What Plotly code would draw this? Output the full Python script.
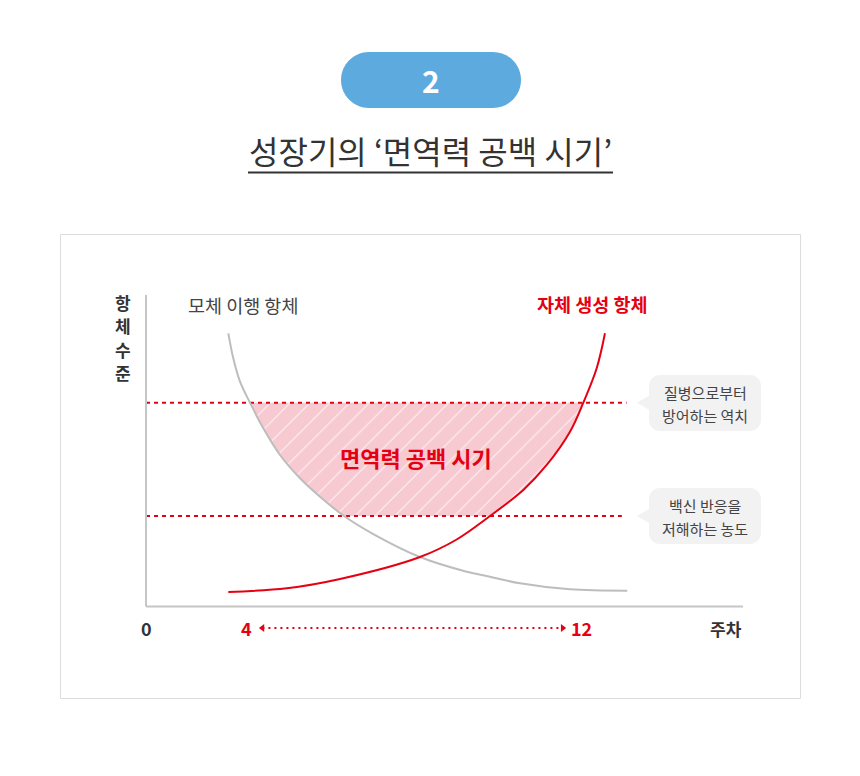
import plotly.graph_objects as go

# ---------------- data (time units 0-100 along x axis, antibody level 0-100) ----------------
maternal_time = [13.79, 14.62, 15.75, 17.42, 19.65, 22.45, 25.80, 29.15, 33.17, 38.07, 45.90, 53.72, 57.62, 62.65, 71.02, 80.62]
maternal_level = [87.70, 79.68, 72.17, 65.43, 57.21, 48.64, 41.16, 35.25, 29.05, 23.27, 15.89, 11.17, 9.57, 7.45, 5.52, 5.07]

own_time = [13.79, 23.57, 32.50, 45.90, 52.04, 57.62, 63.20, 67.12, 71.02, 73.25, 75.49, 76.88]
own_level = [4.65, 5.84, 8.83, 15.89, 21.51, 29.05, 37.40, 45.43, 56.12, 65.43, 76.47, 87.70]

threshold_levels = [65.43, 29.05]        # protective threshold, vaccine-interference level
threshold_ends = [80.5, 79.7]
threshold_notes = [["질병으로부터", "방어하는 역치"], ["백신 반응을", "저해하는 농도"]]

week_labels = ["0", "4", "12"]
week_pos = [0.0, 16.9, 73.0]
week_colors = ["#333333", "#e50012", "#e50012"]
gap_arrow_time = [19.5, 69.8]

# ---------------- geometry helpers ----------------
W, H = 860, 776
X0, XS = 146.0, 5.97
Y0, YS = 606.5, 3.115
def dx(px): return (px - X0) / XS
def dy(py): return (Y0 - py) / YS
def P(px, py): return f"{px / W:.5f},{1 - py / H:.5f}"

RED = "#e50012"
FONT = "Noto Sans CJK KR"

def rounded(x0, y0, x1, y1, r, tip=None):
    k = 0.5523 * r
    s = f"M{P(x0 + r, y0)} L{P(x1 - r, y0)} C{P(x1 - r + k, y0)} {P(x1, y0 + r - k)} {P(x1, y0 + r)} "
    s += f"L{P(x1, y1 - r)} C{P(x1, y1 - r + k)} {P(x1 - r + k, y1)} {P(x1 - r, y1)} "
    s += f"L{P(x0 + r, y1)} C{P(x0 + r - k, y1)} {P(x0, y1 - r + k)} {P(x0, y1 - r)} "
    if tip:
        tx, ty, h = tip
        s += f"L{P(x0, ty + h)} L{P(tx, ty)} L{P(x0, ty - h)} "
    s += f"L{P(x0, y0 + r)} C{P(x0, y0 + r - k)} {P(x0 + r - k, y0)} {P(x0 + r, y0)} Z"
    return s

def note(fig, px, py, text, size, color, ref="data"):
    if ref == "data":
        fig.add_annotation(x=dx(px), y=dy(py), xref="x", yref="y", text=text, showarrow=False,
                           xanchor="center", yanchor="middle",
                           font=dict(family=FONT, size=size, color=color))
    else:
        fig.add_annotation(x=px / W, y=1 - py / H, xref="paper", yref="paper", text=text,
                           showarrow=False, xanchor="center", yanchor="middle",
                           font=dict(family=FONT, size=size, color=color))

fig = go.Figure()

# gap region (between the two thresholds, right of maternal curve, left of own curve)
hi = threshold_levels[0]; lo = threshold_levels[1]
g_seg = sorted([(t, l) for t, l in zip(maternal_time, maternal_level) if lo <= l <= hi], key=lambda p: p[1])
r_seg = sorted([(t, l) for t, l in zip(own_time, own_level) if lo <= l <= hi], key=lambda p: p[1])
fig.add_trace(go.Scatter(x=[p[0] for p in g_seg], y=[p[1] for p in g_seg], mode="lines",
                         line=dict(width=0, shape="spline"), hoverinfo="skip", showlegend=False))
fig.add_trace(go.Scatter(x=[p[0] for p in r_seg], y=[p[1] for p in r_seg], mode="lines",
                         line=dict(width=0, shape="spline"), fill="tonextx", fillcolor="#f7c9d1",
                         fillpattern=dict(shape="/", bgcolor="#f7c9d1", fgcolor="#ffffff",
                                          fgopacity=0.75, size=14, solidity=0.08),
                         hoverinfo="skip", showlegend=False))

# threshold dashed lines
for lvl, end in zip(threshold_levels, threshold_ends):
    fig.add_trace(go.Scatter(x=[0, end], y=[lvl, lvl], mode="lines",
                             line=dict(color=RED, width=2, dash="4px,4px"),
                             hoverinfo="skip", showlegend=False))

# curves
fig.add_trace(go.Scatter(x=maternal_time, y=maternal_level, mode="lines",
                         line=dict(color="#bdbdbd", width=2, shape="spline", smoothing=1.0),
                         showlegend=False))
fig.add_trace(go.Scatter(x=own_time, y=own_level, mode="lines",
                         line=dict(color=RED, width=2, shape="spline", smoothing=1.0),
                         showlegend=False))

# axes lines
fig.add_shape(type="line", xref="x", yref="y", x0=0, x1=0, y0=0, y1=100,
              line=dict(color="#c6c6c6", width=2))
fig.add_shape(type="line", xref="x", yref="y", x0=0, x1=100, y0=0, y1=0,
              line=dict(color="#c6c6c6", width=2))

# week axis labels
label_y = dy(628)
for lab, pos, col in zip(week_labels, week_pos, week_colors):
    fig.add_annotation(x=pos, y=label_y, text=f"<b>{lab}</b>", showarrow=False,
                       font=dict(family=FONT, size=18, color=col), xanchor="center", yanchor="middle")
note(fig, 726, 628, "<b>주차</b>", 17, "#333333")

# gap arrow
fig.add_trace(go.Scatter(x=gap_arrow_time, y=[label_y, label_y], mode="lines",
                         line=dict(color=RED, width=2, dash="2px,4px"), hoverinfo="skip", showlegend=False))
fig.add_trace(go.Scatter(x=gap_arrow_time, y=[label_y, label_y], mode="markers",
                         marker=dict(symbol=["triangle-left", "triangle-right"], size=7, color=RED),
                         hoverinfo="skip", showlegend=False))

# chart text labels
for ch, py in zip("항체수준", [302, 325, 349, 372]):
    note(fig, 123, py, f"<b>{ch}</b>", 17, "#333333")
note(fig, 242.5, 305, "모체 이행 항체", 18.5, "#444444")
note(fig, 592.5, 304, "<b>자체 생성 항체</b>", 18.5, RED)
note(fig, 415.5, 457, "<b>면역력 공백 시기</b>", 22, RED)

# callout bubbles
bubble_top = [375, 488]
for i, (lvl, lines) in enumerate(zip(threshold_levels, threshold_notes)):
    ty = Y0 - lvl * YS
    top = bubble_top[i]
    fig.add_shape(type="path", xref="paper", yref="paper",
                  path=rounded(649, top, 761, top + 56, 11, tip=(637, ty, 7)),
                  fillcolor="#f2f2f2", line=dict(width=0), layer="below")
    for j, line in enumerate(lines):
        note(fig, 705, top + 17 + 23 * j, line, 15, "#444444", ref="paper")

# frame
fig.add_shape(type="rect", xref="paper", yref="paper", x0=60.5 / W, x1=800.5 / W,
              y0=1 - 698.5 / H, y1=1 - 234.5 / H, line=dict(color="#dddddd", width=1),
              fillcolor="rgba(0,0,0,0)", layer="below")

# header badge + title
fig.add_shape(type="path", xref="paper", yref="paper", path=rounded(341, 52, 521, 108, 28),
              fillcolor="#5daade", line=dict(width=0))
note(fig, 431, 80, "<b>2</b>", 30, "#ffffff", ref="paper")
note(fig, 430.5, 150, "성장기의 ‘면역력 공백 시기’", 32, "#333333", ref="paper")
fig.add_shape(type="line", xref="paper", yref="paper", x0=248 / W, x1=613 / W,
              y0=1 - 172.5 / H, y1=1 - 172.5 / H, line=dict(color="#333333", width=2))

fig.update_layout(
    width=W, height=H, margin=dict(l=0, r=0, t=0, b=0, pad=0),
    paper_bgcolor="#ffffff", plot_bgcolor="rgba(0,0,0,0)",
    xaxis=dict(range=[dx(0), dx(W)], visible=False, fixedrange=True),
    yaxis=dict(range=[dy(H), dy(0)], visible=False, fixedrange=True),
    showlegend=False, font=dict(family=FONT),
)

fig.write_html("out.html", config={"displayModeBar": False, "responsive": False},
               post_script="document.body.style.margin='0';")
